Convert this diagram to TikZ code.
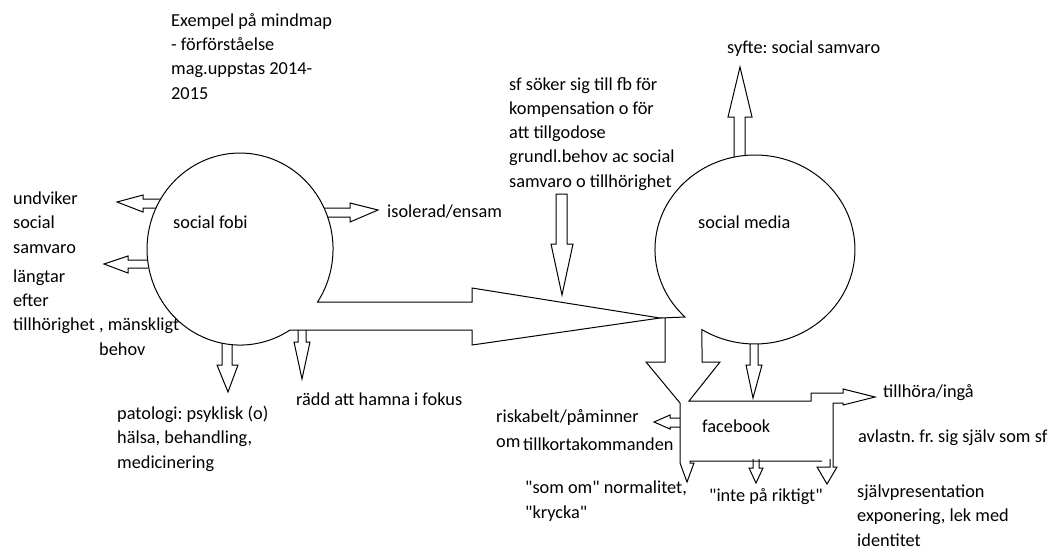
\documentclass[tikz,border=0pt]{standalone}
\usepackage{fontspec}
\setmainfont{Carlito}
\usepackage{tikz}
\usetikzlibrary{positioning}

\tikzset{
  lbl/.style={inner sep=0pt, anchor=base west, align=left, font=\fontsize{18.3}{24.2}\selectfont\frenchspacing},
  outline/.style={line width=1pt, line join=miter},
}
\newcommand{\qq}{\textquotedbl{}}

\begin{document}
\begin{tikzpicture}[x=1pt, y=-1pt]
  \useasboundingbox (0,0) rectangle (1056,550);

  % Title (a node's base is its last line)
  \node[lbl] (title) at (171,99) {Exempel på mindmap\\- förförståelse\\mag.uppstas 2014-\\2015};

  % Social fobi circle with the big arrow to social media
  \draw[outline] (290,330) arc[start angle=57.5, end angle=393.5, x radius=93, y radius=96]
    -- (472,302) -- (472,288) -- (660,318) -- (472,345) -- (472,330) -- cycle;
  \node[lbl] (fobi) at (173,228) {social fobi};

  % Social media circle, arrow down and facebook box
  \draw[outline] (660,318) -- (685,317)
    arc[start angle=134.4, end angle=482, x radius=100, y radius=94.5]
    -- (702,362) -- (720,362) -- (689,401) -- (811,401) -- (811,393) -- (843,393)
    -- (843,389) -- (875,397) -- (843,405) -- (843,403) -- (833,403)
    -- (833,467) -- (837,467) -- (827,484) -- (817,467) -- (830,467) -- (830,459);
  \draw[outline] (665,318) -- (665,362) -- (646,362) -- (680,403) -- (680,463)
    -- (687,482) -- (694,463) -- (690,463) -- (690,461) -- (822,461);
  \node[lbl] (media) at (698,228) {social media};
  \node[lbl] (fb) at (702,432) {facebook};

  % Small arrows round social fobi
  \draw[outline] (161,199) -- (143,199) -- (143,195) -- (117,202) -- (143,212) -- (143,208) -- (156,208);
  \draw[outline] (148,260) -- (128,260) -- (128,256) -- (104,264) -- (128,273) -- (128,268) -- (148,268);
  \draw[outline] (324,208) -- (350,208) -- (350,203) -- (378,210) -- (350,222) -- (350,217) -- (327,217);
  \draw[outline] (222,343) -- (222,365) -- (217,365) -- (228,392) -- (238,365) -- (232,365) -- (232,345);
  \draw[outline] (298,330) -- (298,342) -- (294,342) -- (302,379) -- (310,342) -- (306,342) -- (306,330);

  % Small arrows round social media and facebook
  \draw[outline] (556,194) -- (556,244) -- (551,244) -- (562,295) -- (573,244) -- (567,244) -- (567,194) -- cycle;
  \draw[outline] (734,157) -- (734,117) -- (728,117) -- (740,67) -- (752,117) -- (745,117) -- (745,156);
  \draw[outline] (750,344) -- (750,365) -- (746,365) -- (753,398) -- (762,365) -- (758,365) -- (758,344);
  \draw[outline] (680,418) -- (670,418) -- (670,415) -- (654,422) -- (670,429) -- (670,427) -- (680,427);
  \draw[outline] (753,459) -- (753,468) -- (749,468) -- (756,483) -- (763,468) -- (759,468) -- (759,459);

  % Labels
  \node[lbl] (undviker) at (13,253) {undviker\\social\\samvaro};
  \node[lbl] (langtar) at (13,355) {längtar\\efter\\tillhörighet , mänskligt\\\hspace*{86pt}behov};
  \node[lbl] (isolerad) at (387,217) {isolerad/ensam};
  \node[lbl] (patologi) at (117,468) {patologi: psyklisk (o)\\hälsa, behandling,\\medicinering};
  \node[lbl] (radd) at (296,405) {rädd att hamna i fokus};
  \node[lbl] (soker) at (509,187) {sf söker sig till fb för\\kompensation o för\\att tillgodose\\grundl.behov ac social\\samvaro o tillhörighet};
  \node[lbl] (syfte) at (727,53) {syfte: social samvaro};
  \node[lbl] (risk) at (496,447) {riskabelt/påminner\\om};
  \node[lbl] (brist) at (523,450) {tillkortakommanden};
  \node[lbl] (tillhora) at (883,397) {tillhöra/ingå};
  \node[lbl] (avlastn) at (858,442) {avlastn. fr. sig själv som sf};
  \node[lbl] (somom) at (525,518) {\qq som om\qq{} normalitet,\\\qq krycka\qq};
  \node[lbl] (inte) at (709,501) {\qq inte på riktigt\qq};
  \node[lbl] (sjalv) at (857,546) {självpresentation\\exponering, lek med\\identitet};
\end{tikzpicture}
\end{document}
